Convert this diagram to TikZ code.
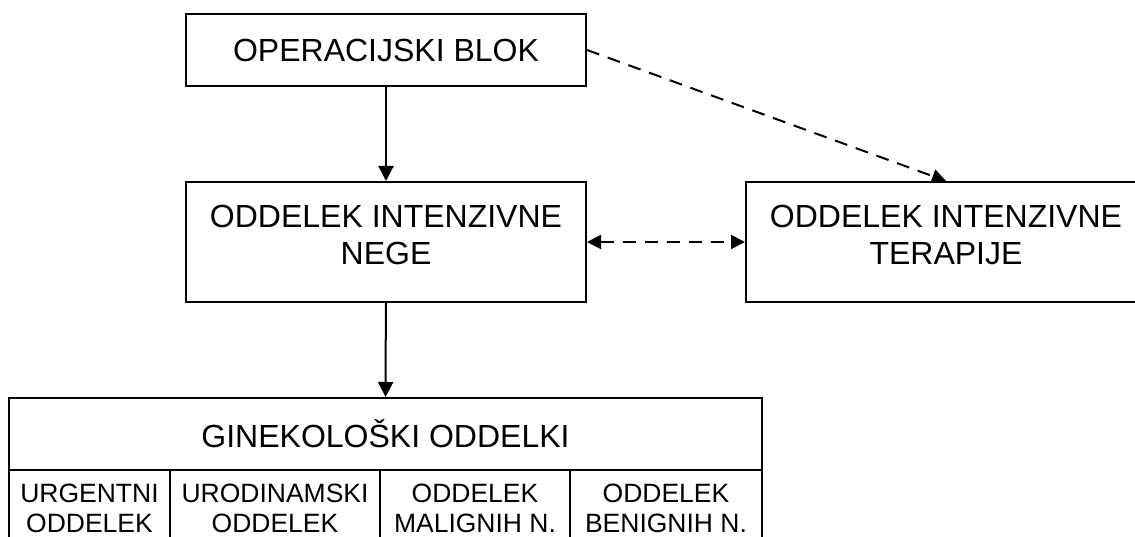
\documentclass[tikz,border=0pt]{standalone}
\usepackage{fontspec}
\setmainfont{Liberation Sans}
\usetikzlibrary{arrows.meta}

\begin{document}
\begin{tikzpicture}[x=1pt,y=-1pt,
  box/.style={draw,line width=2pt,align=center,font=\fontsize{32}{37}\selectfont,inner sep=0pt},
  cell/.style={draw,line width=2pt,align=center,font=\fontsize{26.5}{30}\selectfont,inner sep=0pt,minimum height=77pt},
  arr/.style={line width=2pt,-{Triangle[width=15pt,length=15pt]}},
  darr/.style={line width=2pt,dash pattern=on 13pt off 9pt,-{Triangle[width=14pt,length=14pt]}},
  ddarr/.style={line width=2pt,dash pattern=on 13pt off 9pt,{Triangle[width=14pt,length=14pt]}-{Triangle[width=14pt,length=14pt]}}]
\clip (0,0) rectangle (1135,537);
\fill[white] (0,0) rectangle (1135,537);
\node[box,minimum width=400pt,minimum height=72pt] (op) at (386,50) {OPERACIJSKI BLOK};
\node[box,minimum width=400pt,minimum height=120pt,text depth=14pt] (nege) at (386,242) {ODDELEK INTENZIVNE\\NEGE};
\node[box,minimum width=400pt,minimum height=120pt,text depth=14pt] (ter) at (946,242) {ODDELEK INTENZIVNE\\TERAPIJE};
\node[box,minimum width=753pt,minimum height=72pt] (gin) at (385.5,434) {GINEKOLOŠKI ODDELKI};
\node[cell,minimum width=161pt] (urg) at (89.5,508.5) {URGENTNI\\ODDELEK};
\node[cell,minimum width=210pt] (uro) at (275,508.5) {URODINAMSKI\\ODDELEK};
\node[cell,minimum width=190pt] (mal) at (475,508.5) {ODDELEK\\MALIGNIH N.};
\node[cell,minimum width=192pt] (ben) at (666,508.5) {ODDELEK\\BENIGNIH N.};
\draw[arr] (op) -- (nege);
\draw[arr] (nege) -- (gin);
\draw[darr] (op.east) -- (ter.north);
\draw[ddarr] (nege) -- (ter);
\end{tikzpicture}
\end{document}
